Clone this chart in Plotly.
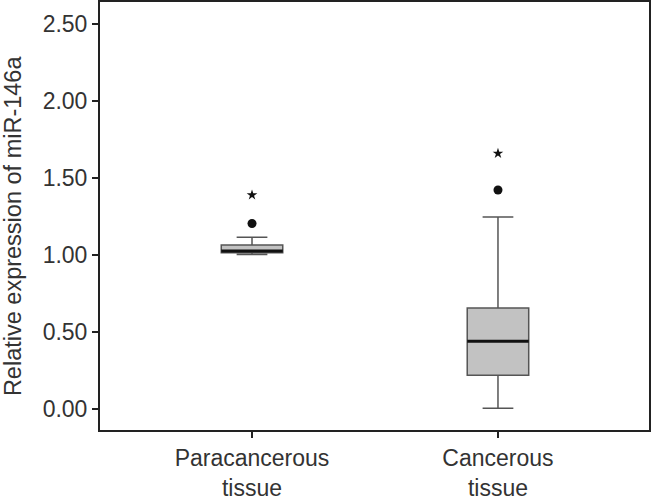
import plotly.graph_objects as go

categories = ["Paracancerous<br>tissue", "Cancerous<br>tissue"]
q1 = [1.015, 0.22]
median = [1.027, 0.44]
q3 = [1.065, 0.656]
lower_whisker = [1.003, 0.006]
upper_whisker = [1.115, 1.247]
outlier_circle = [1.205, 1.422]
outlier_star = [1.39, 1.66]
y_ticks = [0.0, 0.5, 1.0, 1.5, 2.0, 2.5]
y_title = "Relative expression of miR-146a"

box_width = 0.25
pos = list(range(len(categories)))

fig = go.Figure()
for i in pos:
    fig.add_trace(go.Box(
        x=[i], q1=[q1[i]], median=[median[i]], q3=[q3[i]],
        lowerfence=[lower_whisker[i]], upperfence=[upper_whisker[i]],
        width=box_width, whiskerwidth=0.5,
        fillcolor="#c2c2c2", line=dict(color="#555555", width=1.5),
        boxpoints=False, showlegend=False, hoverinfo="skip",
    ))
    fig.add_trace(go.Scatter(
        x=[i - box_width / 2, i + box_width / 2], y=[median[i], median[i]],
        mode="lines", line=dict(color="#111111", width=3),
        showlegend=False, hoverinfo="skip",
    ))

fig.add_trace(go.Scatter(
    x=pos, y=outlier_circle, mode="markers",
    marker=dict(symbol="circle", size=9, color="#111111"),
    showlegend=False,
))
fig.add_trace(go.Scatter(
    x=pos, y=outlier_star, mode="markers",
    marker=dict(symbol="star", size=8, color="#111111"),
    showlegend=False,
))

font = "Liberation Sans, Arial, sans-serif"
fs = 23
fig.update_layout(
    width=652, height=503,
    margin=dict(l=100, r=3, t=2, b=73, autoexpand=False),
    paper_bgcolor="white", plot_bgcolor="white",
    font=dict(family=font, size=fs, color="#333333"),
    xaxis=dict(
        range=[-0.618, 1.614], tickvals=pos, ticktext=categories,
        showline=True, linecolor="#222222", linewidth=2, mirror=True,
        ticks="outside", ticklen=6, tickwidth=2, tickcolor="#222222",
        showgrid=False, zeroline=False,
        tickfont=dict(size=fs, color="#333333"),
    ),
    yaxis=dict(
        range=[-0.136, 2.643], tickvals=y_ticks, ticktext=[f"{v:.2f}" for v in y_ticks],
        showline=True, linecolor="#222222", linewidth=2, mirror=True,
        ticks="outside", ticklen=6, tickwidth=2, tickcolor="#222222",
        showgrid=False, zeroline=False,
        tickfont=dict(size=fs, color="#333333"),
    ),
    annotations=[dict(
        text=y_title, textangle=-90, showarrow=False,
        xref="paper", yref="paper", x=-0.158, y=0.477,
        xanchor="center", yanchor="middle",
        font=dict(size=23.5, color="#333333", family=font),
    )],
)

fig.write_html(
    "out.html",
    config={"displayModeBar": False},
    post_script="document.body.style.margin='0';document.body.style.overflow='hidden';",
)
